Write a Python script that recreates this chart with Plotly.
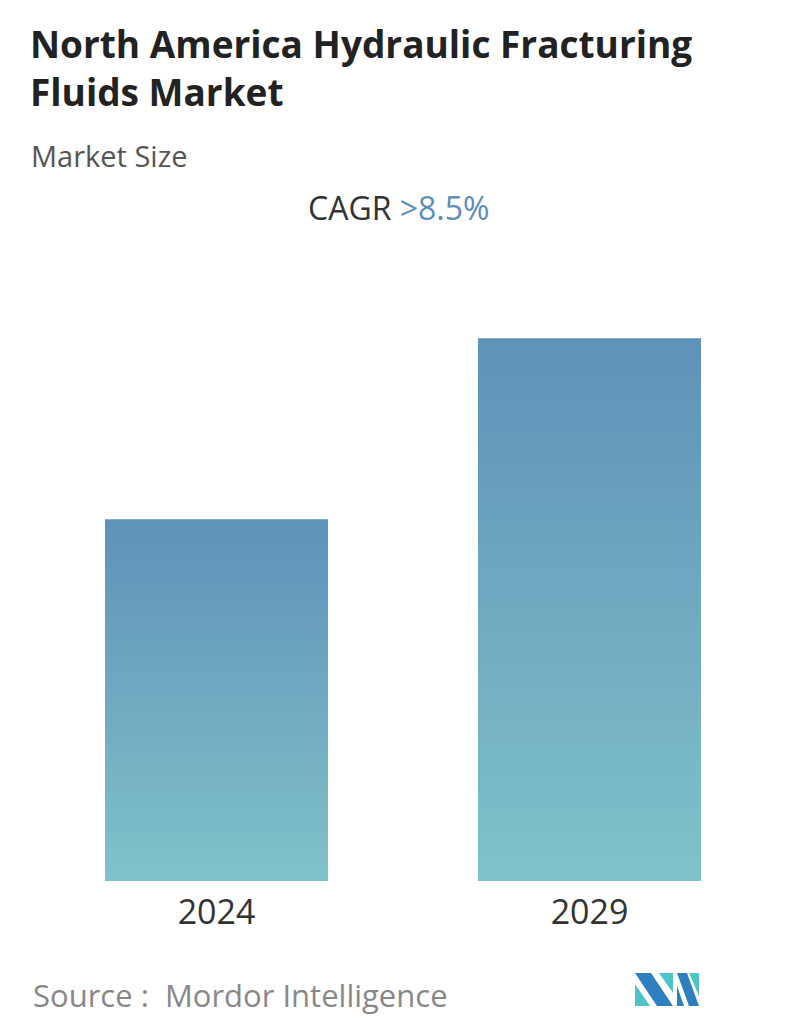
import plotly.graph_objects as go

years = ["2024", "2029"]
values = [1.0, 1.5]

W, H = 796, 1034
T, B = 294, 873  # plot area top/bottom in figure pixels


def px(x, y):
    # figure pixels -> paper coords (page adds an 8px offset, so targets are shifted)
    return (x - 8) / W, (B - (y - 8)) / (B - T)


fig = go.Figure()
half = 0.299
for i, v in enumerate(values):
    fig.add_trace(go.Scatter(
        x=[i - half, i + half, i + half, i - half, i - half],
        y=[0, 0, v, v, 0],
        fill="toself", mode="lines", line=dict(width=0),
        fillgradient=dict(type="vertical",
                          colorscale=[[0, "#80c2ca"], [1, "#5e92b8"]]),
        hoverinfo="skip", showlegend=False,
    ))

fig.update_layout(
    width=W, height=H,
    margin=dict(l=0, r=0, t=T, b=H - B),
    plot_bgcolor="white", paper_bgcolor="white",
    font=dict(family="Open Sans", color="#333"),
    xaxis=dict(range=[-0.559, 1.575], tickvals=[0, 1], ticktext=years,
               showgrid=False, zeroline=False, showline=False,
               tickfont=dict(size=34, color="#333"), ticklen=0,
               ticklabelstandoff=8),
    yaxis=dict(range=[0, 1.6], visible=False),
    showlegend=False,
)

texts = [
    (28, 16, "left", "<b>North America Hydraulic Fracturing<br>Fluids Market</b>", 37, "#222"),
    (29, 134, "left", "Market Size", 29, "#555"),
    (398, 184, "center", "CAGR <span style='color:#5b8fb9'>&gt;8.5%</span>", 32, "#333"),
    (31, 972, "left", "Source :  Mordor Intelligence", 31, "#888"),
]
for x, y, anchor, text, size, col in texts:
    xp, yp = px(x, y)
    fig.add_annotation(x=xp, y=yp, xref="paper", yref="paper", showarrow=False,
                       xanchor=anchor, yanchor="top", align="left", text=text,
                       font=dict(size=size, color=col))

logo = [
    ([(635, 973), (651, 973), (673, 1006), (657, 1006)], "#2e7fc0"),
    ([(635, 984), (650, 1006), (635, 1006)], "#4cc4c8"),
    ([(659, 973), (673, 973), (673, 993)], "#4cc4c8"),
    ([(677, 973), (687, 973), (699, 1006), (689, 1006)], "#2e7fc0"),
    ([(677, 986), (684, 1006), (677, 1006)], "#2e7fc0"),
    ([(689, 973), (699, 973), (699, 996)], "#4cc4c8"),
]
for pts, col in logo:
    coords = [px(x, y) for x, y in pts]
    path = "M " + " L ".join(f"{a:.5f} {b:.5f}" for a, b in coords) + " Z"
    fig.add_shape(type="path", path=path, xref="paper", yref="paper",
                  fillcolor=col, line=dict(width=0))

fig.write_html("out.html")
